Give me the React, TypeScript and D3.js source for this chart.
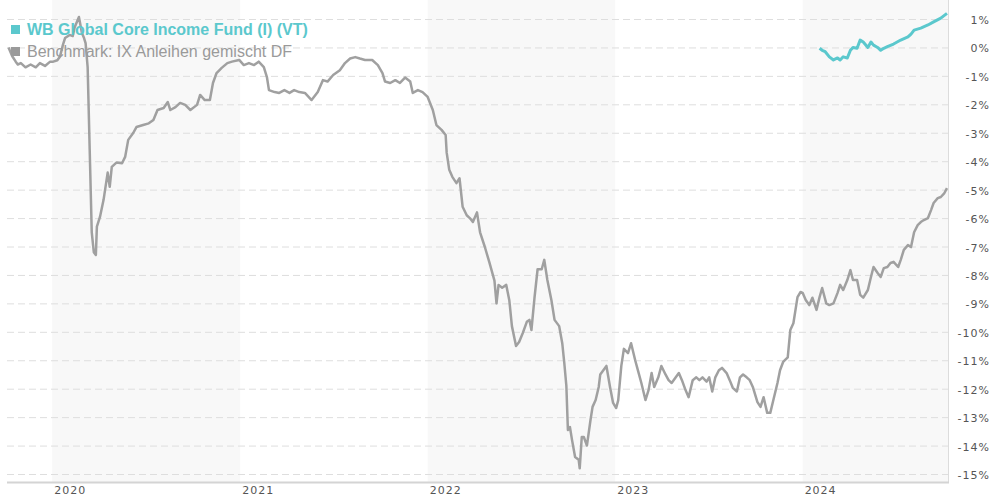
import React, { useRef, useEffect } from 'react';
import * as d3 from 'd3';

const fundName = 'WB Global Core Income Fund (I) (VT)';
const benchName = 'Benchmark: IX Anleihen gemischt DF';

const benchDates = [
  '2019-10-08', '2019-10-15', '2019-10-22', '2019-10-26', '2019-11-01', '2019-11-10', '2019-11-20', '2019-11-30',
  '2019-12-08', '2019-12-18', '2019-12-28', '2020-01-03', '2020-01-11', '2020-01-16', '2020-01-22', '2020-01-26',
  '2020-02-04', '2020-02-10', '2020-02-14', '2020-02-22', '2020-02-28', '2020-03-03', '2020-03-06', '2020-03-10',
  '2020-03-14', '2020-03-18', '2020-03-22', '2020-03-26', '2020-03-28', '2020-04-03', '2020-04-10', '2020-04-18',
  '2020-04-22', '2020-04-26', '2020-05-05', '2020-05-16', '2020-05-22', '2020-05-28', '2020-06-07', '2020-06-13',
  '2020-06-26', '2020-07-07', '2020-07-16', '2020-07-24', '2020-08-05', '2020-08-13', '2020-08-18', '2020-08-28',
  '2020-09-06', '2020-09-16', '2020-09-26', '2020-10-09', '2020-10-15', '2020-10-24', '2020-11-03', '2020-11-09',
  '2020-11-16', '2020-11-26', '2020-12-07', '2020-12-16', '2020-12-30', '2021-01-08', '2021-01-18', '2021-01-28',
  '2021-02-06', '2021-02-16', '2021-02-22', '2021-02-26', '2021-03-09', '2021-03-18', '2021-03-28', '2021-04-07',
  '2021-04-16', '2021-04-26', '2021-05-07', '2021-05-20', '2021-06-01', '2021-06-11', '2021-06-20', '2021-07-01',
  '2021-07-14', '2021-07-24', '2021-08-03', '2021-08-13', '2021-08-22', '2021-09-01', '2021-09-15', '2021-09-26',
  '2021-10-05', '2021-10-10', '2021-10-20', '2021-10-30', '2021-11-08', '2021-11-18', '2021-11-28', '2021-12-03',
  '2021-12-13', '2021-12-22', '2022-01-01', '2022-01-11', '2022-01-18', '2022-01-28', '2022-02-05', '2022-02-07',
  '2022-02-12', '2022-02-18', '2022-02-26', '2022-03-04', '2022-03-10', '2022-03-18', '2022-03-24', '2022-03-30',
  '2022-04-07', '2022-04-13', '2022-04-22', '2022-05-01', '2022-05-11', '2022-05-15', '2022-05-19', '2022-05-26',
  '2022-06-03', '2022-06-09', '2022-06-14', '2022-06-22', '2022-06-28', '2022-07-05', '2022-07-13', '2022-07-18',
  '2022-07-22', '2022-07-28', '2022-08-03', '2022-08-11', '2022-08-16', '2022-08-22', '2022-08-30', '2022-09-05',
  '2022-09-14', '2022-09-20', '2022-09-24', '2022-09-28', '2022-10-01', '2022-10-05', '2022-10-09', '2022-10-15',
  '2022-10-22', '2022-10-24', '2022-10-28', '2022-11-01', '2022-11-07', '2022-11-14', '2022-11-18', '2022-11-24',
  '2022-11-30', '2022-12-03', '2022-12-09', '2022-12-15', '2022-12-22', '2022-12-28', '2023-01-03', '2023-01-07',
  '2023-01-13', '2023-01-18', '2023-01-26', '2023-02-01', '2023-02-09', '2023-02-15', '2023-02-21', '2023-03-01',
  '2023-03-07', '2023-03-13', '2023-03-18', '2023-03-26', '2023-04-01', '2023-04-09', '2023-04-15', '2023-04-21',
  '2023-04-29', '2023-05-05', '2023-05-11', '2023-05-18', '2023-05-24', '2023-06-01', '2023-06-08', '2023-06-14',
  '2023-06-20', '2023-06-28', '2023-07-03', '2023-07-09', '2023-07-15', '2023-07-22', '2023-07-28', '2023-08-06',
  '2023-08-12', '2023-08-18', '2023-08-26', '2023-09-01', '2023-09-07', '2023-09-14', '2023-09-20', '2023-09-26',
  '2023-10-05', '2023-10-11', '2023-10-17', '2023-10-24', '2023-10-30', '2023-11-05', '2023-11-13', '2023-11-18',
  '2023-11-24', '2023-12-03', '2023-12-08', '2023-12-14', '2023-12-22', '2023-12-28', '2024-01-01', '2024-01-07',
  '2024-01-14', '2024-01-20', '2024-01-28', '2024-02-03', '2024-02-08', '2024-02-16', '2024-02-22', '2024-03-01',
  '2024-03-09', '2024-03-14', '2024-03-20', '2024-03-28', '2024-04-03', '2024-04-08', '2024-04-16', '2024-04-22',
  '2024-04-28', '2024-05-07', '2024-05-13', '2024-05-18', '2024-05-26', '2024-06-01', '2024-06-07', '2024-06-14',
  '2024-06-20', '2024-06-26', '2024-07-05', '2024-07-10', '2024-07-16', '2024-07-24', '2024-07-30', '2024-08-05',
  '2024-08-12', '2024-08-18', '2024-08-24', '2024-09-01', '2024-09-07', '2024-09-12', '2024-09-20', '2024-09-26',
  '2024-10-03', '2024-10-08',
];

const benchValues = [
  0.0, -0.3, -0.5, -0.6, -0.55, -0.7, -0.6, -0.7,
  -0.55, -0.65, -0.5, -0.5, -0.45, -0.33, 0.1, 0.33,
  0.44, 0.4, 0.72, 1.07, 0.5, 0.33, 0.15, -0.69,
  -3.6, -6.5, -7.2, -7.3, -6.3, -5.96, -5.36, -4.4,
  -4.9, -4.2, -4.05, -4.07, -3.85, -3.25, -3.0, -2.8,
  -2.73, -2.67, -2.55, -2.2, -2.13, -1.92, -2.2, -2.1,
  -1.95, -2.02, -2.2, -2.02, -1.67, -1.85, -1.85, -1.25,
  -0.9, -0.72, -0.55, -0.5, -0.44, -0.62, -0.55, -0.62,
  -0.5, -0.69, -1.04, -1.5, -1.57, -1.6, -1.5, -1.6,
  -1.5, -1.57, -1.6, -1.85, -1.57, -1.15, -1.2, -0.97,
  -0.8, -0.55, -0.39, -0.34, -0.39, -0.44, -0.44, -0.62,
  -0.9, -1.2, -1.25, -1.15, -1.25, -1.06, -1.2, -1.6,
  -1.5, -1.57, -1.74, -2.2, -2.73, -2.9, -3.08, -3.7,
  -4.3, -4.55, -4.77, -4.6, -5.6, -5.9, -6.0, -6.14,
  -5.8, -6.5, -7.0, -7.55, -8.2, -9.0, -8.35, -8.45,
  -8.35, -8.9, -9.8, -10.5, -10.36, -10.05, -9.65, -9.58,
  -9.94, -8.8, -7.8, -7.8, -7.47, -8.18, -8.9, -9.58,
  -9.8, -10.4, -11.1, -11.9, -13.45, -13.35, -13.8, -14.4,
  -14.5, -14.8, -13.7, -13.7, -14.0, -13.1, -12.64, -12.4,
  -11.94, -11.5, -11.35, -11.2, -11.94, -12.5, -12.68, -12.4,
  -11.2, -10.6, -10.75, -10.4, -11.0, -11.4, -11.8, -12.4,
  -12.05, -11.45, -11.94, -11.6, -11.2, -11.5, -11.7, -11.8,
  -11.6, -11.45, -11.7, -12.05, -12.3, -11.7, -11.6, -11.7,
  -11.6, -11.75, -11.6, -12.1, -11.6, -11.35, -11.27, -11.45,
  -11.7, -11.97, -12.1, -11.6, -11.5, -11.6, -11.7, -11.94,
  -12.47, -12.64, -12.3, -12.85, -12.85, -12.4, -11.8, -11.35,
  -11.06, -10.9, -9.94, -9.7, -8.78, -8.6, -8.63, -8.88,
  -9.06, -8.8, -9.23, -8.78, -8.46, -9.0, -9.06, -9.0,
  -8.63, -8.35, -8.53, -8.18, -7.83, -8.18, -8.18, -8.7,
  -8.8, -8.53, -8.07, -7.72, -7.93, -8.07, -7.76, -7.72,
  -7.58, -7.54, -7.72, -7.47, -7.12, -6.95, -7.02, -6.5,
  -6.25, -6.14, -6.07, -6.0, -5.72, -5.47, -5.3, -5.26,
  -5.12, -4.95,
];

const fundDates = [
  '2024-02-03', '2024-02-08', '2024-02-14', '2024-02-22', '2024-03-01', '2024-03-09', '2024-03-14', '2024-03-20',
  '2024-03-28', '2024-04-03', '2024-04-08', '2024-04-16', '2024-04-22', '2024-04-28', '2024-05-07', '2024-05-13',
  '2024-05-18', '2024-05-26', '2024-06-01', '2024-06-07', '2024-06-14', '2024-06-26', '2024-07-10', '2024-07-24',
  '2024-07-30', '2024-08-05', '2024-08-18', '2024-09-01', '2024-09-12', '2024-09-26', '2024-10-08',
];

const fundValues = [
  -0.03, -0.1, -0.15, -0.33, -0.44, -0.37, -0.44, -0.33,
  -0.37, -0.1, 0.0, -0.03, 0.26, 0.19, 0.0, 0.19,
  0.08, 0.0, -0.1, -0.03, 0.03, 0.12, 0.26, 0.37,
  0.47, 0.61, 0.68, 0.79, 0.9, 1.03, 1.2,
];

const yearTicks = ['2020', '2021', '2022', '2023', '2024'];
const yTicks = [1, 0, -1, -2, -3, -4, -5, -6, -7, -8, -9, -10, -11, -12, -13, -14, -15];

const App = () => {
  const ref = useRef<SVGSVGElement>(null);

  const width = 990;
  const height = 500;
  const left = 7;
  const right = 948;
  const top = 0;
  const bottom = 482;

  useEffect(() => {
    const svg = d3.select(ref.current);
    svg.selectAll('*').remove();

    const parse = d3.timeParse('%Y-%m-%d');
    const bench = benchDates.map((d, i) => ({ date: parse(d) as Date, value: benchValues[i] }));
    const fund = fundDates.map((d, i) => ({ date: parse(d) as Date, value: fundValues[i] }));

    const x = d3.scaleTime()
      .domain([parse('2019-10-05') as Date, parse('2024-10-10') as Date])
      .range([left, right]);

    const y = d3.scaleLinear()
      .domain([-15, 1])
      .range([474, 19]);

    // alternating year bands
    const years = yearTicks.map((t) => +t);
    svg.append('g')
      .selectAll('rect')
      .data(years.filter((yr) => yr % 2 === 0))
      .enter()
      .append('rect')
      .attr('x', (yr) => x(new Date(yr, 0, 1)))
      .attr('y', top)
      .attr('width', (yr) => Math.min(right, x(new Date(yr + 1, 0, 1))) - x(new Date(yr, 0, 1)))
      .attr('height', bottom - top)
      .attr('fill', '#f8f8f8');

    // horizontal grid
    svg.append('g')
      .selectAll('line')
      .data(yTicks)
      .enter()
      .append('line')
      .attr('x1', left)
      .attr('x2', right)
      .attr('y1', (d) => y(d) + 0.5)
      .attr('y2', (d) => y(d) + 0.5)
      .attr('stroke', '#dedede')
      .attr('stroke-width', 1)
      .attr('stroke-dasharray', '7,4');

    // right border and bottom axis line
    svg.append('line')
      .attr('x1', right + 0.5).attr('x2', right + 0.5)
      .attr('y1', top).attr('y2', bottom)
      .attr('stroke', '#dcdcdc');
    svg.append('line')
      .attr('x1', left).attr('x2', right + 1)
      .attr('y1', bottom + 0.5).attr('y2', bottom + 0.5)
      .attr('stroke', '#d4d4d4')
      .attr('stroke-width', 2);

    const axisFont = '"DejaVu Sans", Verdana, sans-serif';

    // y labels on the right
    svg.append('g')
      .selectAll('text')
      .data(yTicks)
      .enter()
      .append('text')
      .attr('x', 990)
      .attr('y', (d) => y(d) + 5)
      .attr('text-anchor', 'end')
      .attr('font-family', axisFont)
      .attr('font-size', 11)
      .attr('letter-spacing', 1)
      .attr('fill', '#555')
      .text((d) => `${d}%`);

    // year labels
    svg.append('g')
      .selectAll('text')
      .data(years)
      .enter()
      .append('text')
      .attr('x', (yr) => x(new Date(yr, 0, 1)) + 2)
      .attr('y', 494)
      .attr('font-family', axisFont)
      .attr('font-size', 11)
      .attr('letter-spacing', 1)
      .attr('fill', '#555')
      .text((yr) => yr);

    const line = d3.line<{ date: Date; value: number }>()
      .x((d) => x(d.date))
      .y((d) => y(d.value))
      .curve(d3.curveLinear);

    svg.append('path')
      .datum(bench)
      .attr('d', line)
      .attr('fill', 'none')
      .attr('stroke', '#a0a0a0')
      .attr('stroke-width', 2.5)
      .attr('stroke-linejoin', 'round');

    svg.append('path')
      .datum(fund)
      .attr('d', line)
      .attr('fill', 'none')
      .attr('stroke', '#5bc8cd')
      .attr('stroke-width', 3)
      .attr('stroke-linejoin', 'round');

    // legend
    const legend = [
      { name: fundName, color: '#5bc8cd', weight: 'bold', text: '#5bc8cd' },
      { name: benchName, color: '#9a9a9a', weight: 'normal', text: '#9a9a9a' },
    ];
    const lg = svg.append('g');
    legend.forEach((l, i) => {
      lg.append('rect')
        .attr('x', 11)
        .attr('y', 25 + i * 22)
        .attr('width', 9)
        .attr('height', 9)
        .attr('fill', l.color);
      lg.append('text')
        .attr('x', 27)
        .attr('y', 35 + i * 22)
        .attr('font-family', '"Liberation Sans", Arial, sans-serif')
        .attr('font-size', 16)
        .attr('font-weight', l.weight)
        .attr('fill', l.text)
        .text(l.name);
    });
  }, []);

  return (
    <div style={{ position: 'absolute', left: 0, top: 0 }}>
      <svg ref={ref} width={width} height={height} style={{ display: 'block' }} />
    </div>
  );
};

export default App;
